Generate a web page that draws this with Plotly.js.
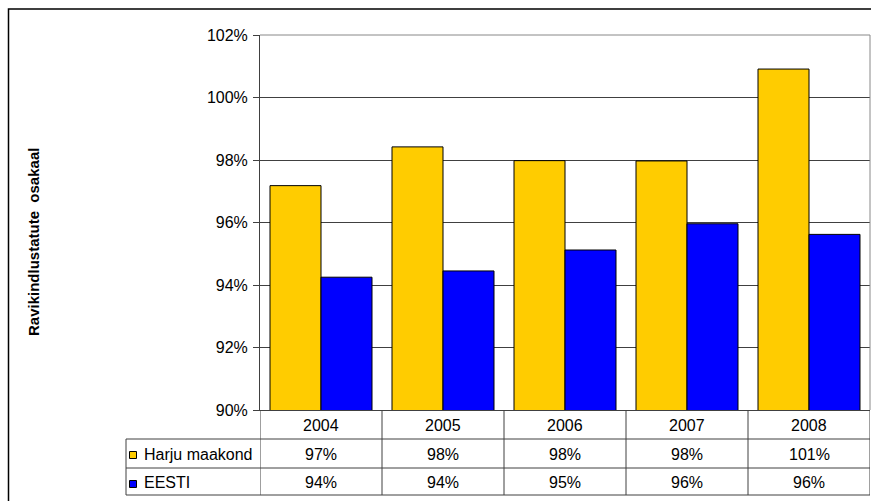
<!DOCTYPE html>
<html>
<head>
<meta charset="utf-8">
<script src="https://cdn.plot.ly/plotly-3.0.1.min.js"></script>
<style>
  html, body { margin: 0; padding: 0; background: #fff; }
  #chart { width: 871px; height: 501px; }
</style>
</head>
<body>
<div id="chart"></div>
<script>
// Share of health-insured population, Harju county vs. Estonia
const years = ['2004', '2005', '2006', '2007', '2008'];
const seriesNames = ['Harju maakond', 'EESTI'];
const harju = [97.18, 98.42, 97.98, 97.97, 100.91];
const eesti = [94.25, 94.45, 95.12, 95.96, 95.62];
const yTicks = [90, 92, 94, 96, 98, 100, 102];
const yTickLabels = ['90%', '92%', '94%', '96%', '98%', '100%', '102%'];

const colors = ['#FFCC00', '#0000FF'];
const FONT = 'Liberation Sans, Arial, sans-serif';
const FS = 16;
const LINE = '#404040';

// Plot area in pixels: x 260..870, y 35..410
const plotL = 260, plotR = 870, plotT = 35, plotB = 410;
const pw = plotR - plotL, ph = plotB - plotT;
const px = v => (v - plotL) / pw;     // pixel x -> paper x
const py = v => (plotB - v) / ph;     // pixel y -> paper y
const cx = i => (i + 0.5) / years.length; // column centre, paper x

const rowYear = 439, rowA = 468, rowB = 495, legendLeft = 126;

const traces = [harju, eesti].map((vals, i) => ({
  type: 'bar',
  name: seriesNames[i],
  x: years,
  y: vals,
  marker: { color: colors[i], line: { color: '#000', width: 1 } },
  hoverinfo: 'skip'
}));

const shapes = [];
const hline = (y, x0) => shapes.push({
  type: 'line', xref: 'paper', yref: 'paper',
  x0: px(x0), x1: 1, y0: py(y), y1: py(y),
  line: { color: LINE, width: 1 }
});
hline(rowYear, legendLeft);
hline(rowA, legendLeft);
hline(rowB, legendLeft);

// column separators of the data table
for (let i = 0; i <= years.length; i++) {
  shapes.push({
    type: 'line', xref: 'x', yref: 'paper',
    x0: i - 0.5, x1: i - 0.5, y0: py(plotB), y1: py(rowB),
    line: { color: LINE, width: 1 }
  });
}
// legend column left edge
shapes.push({
  type: 'line', xref: 'paper', yref: 'paper',
  x0: px(legendLeft), x1: px(legendLeft), y0: py(rowYear), y1: py(rowB),
  line: { color: LINE, width: 1 }
});
// plot border (top, right)
shapes.push({
  type: 'line', xref: 'paper', yref: 'paper',
  x0: 0, x1: 1, y0: 1, y1: 1, line: { color: '#888', width: 1 }
});
shapes.push({
  type: 'line', xref: 'paper', yref: 'paper',
  x0: 1, x1: 1, y0: 0, y1: 1, line: { color: '#888', width: 1 }
});
// outer chart frame
shapes.push({
  type: 'rect', xref: 'paper', yref: 'paper',
  x0: px(8.5), x1: px(900), y0: py(540), y1: py(9),
  line: { color: '#000', width: 1.5 }
});
// legend keys inside the table
[rowYear, rowA].forEach((top, i) => {
  const c = top + 16;
  shapes.push({
    type: 'rect', xref: 'paper', yref: 'paper',
    x0: px(129.5), x1: px(136.5), y0: py(c - 3.5), y1: py(c + 3.5),
    fillcolor: colors[i], line: { color: '#000', width: 1 }
  });
});

const annotations = [];
const txt = (text, x, y, extra) => annotations.push(Object.assign({
  text, xref: 'paper', yref: 'paper', x, y, showarrow: false,
  xanchor: 'center', yanchor: 'middle',
  font: { family: FONT, size: FS, color: '#000' }
}, extra || {}));

years.forEach((yr, i) => {
  txt(yr, cx(i), py((plotB + rowYear) / 2 + 1));
  txt(Math.round(harju[i]) + '%', cx(i), py((rowYear + rowA) / 2 + 1));
  txt(Math.round(eesti[i]) + '%', cx(i), py((rowA + rowB) / 2 + 1));
});
seriesNames.forEach((n, i) => {
  const top = i === 0 ? rowYear : rowA;
  const bot = i === 0 ? rowA : rowB;
  txt(n, px(142), py((top + bot) / 2 + 1), { xanchor: 'left' });
});
// y-axis title
txt('<b>Ravikindlustatute\u00A0 osakaal</b>', px(33), py(242),
  { textangle: -90, font: { family: FONT, size: 15, color: '#000' } });

const layout = {
  width: 871, height: 501,
  margin: { l: plotL, r: 871 - plotR, t: plotT, b: 501 - plotB, pad: 0 },
  paper_bgcolor: '#fff', plot_bgcolor: '#fff',
  showlegend: false,
  barmode: 'group', bargap: 0.164, bargroupgap: 0,
  xaxis: {
    type: 'category', range: [-0.5, years.length - 0.5],
    showticklabels: false, ticks: '', showgrid: false, zeroline: false,
    showline: true, linecolor: LINE, linewidth: 1, fixedrange: true
  },
  yaxis: {
    range: [90, 102], tickmode: 'array', tickvals: yTicks, ticktext: yTickLabels,
    ticks: 'outside', ticklen: 6, tickcolor: LINE, tickwidth: 1,
    showgrid: true, gridcolor: LINE, gridwidth: 1,
    showline: true, linecolor: LINE, linewidth: 1, zeroline: false,
    tickfont: { family: FONT, size: FS, color: '#000' },
    ticklabelstandoff: 2, fixedrange: true
  },
  shapes, annotations
};

Plotly.newPlot('chart', traces, layout, { staticPlot: true, displayModeBar: false });
</script>
</body>
</html>
